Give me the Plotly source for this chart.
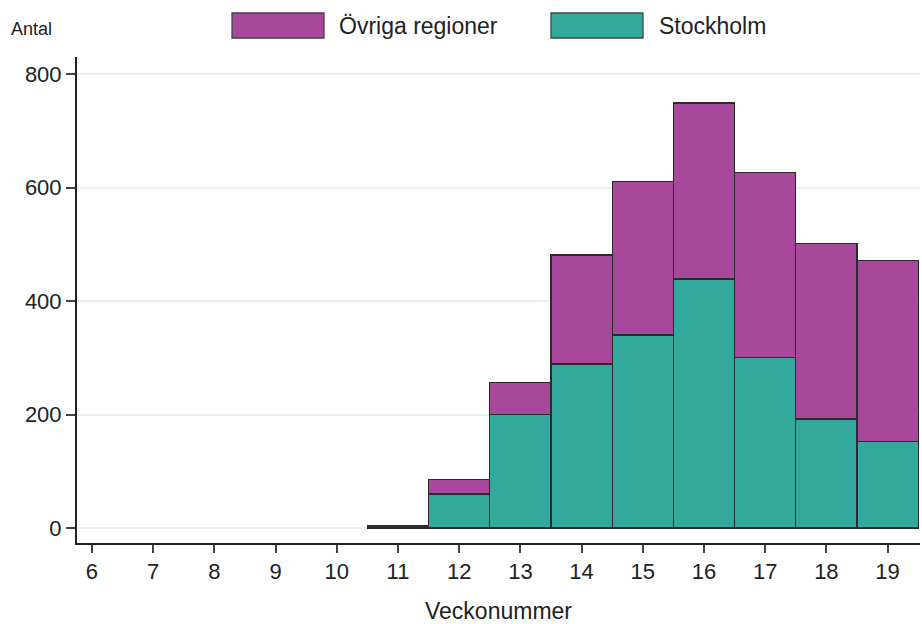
import plotly.graph_objects as go

weeks = [6, 7, 8, 9, 10, 11, 12, 13, 14, 15, 16, 17, 18, 19]
stockholm = [None, None, None, None, None, 3, 60, 200, 289, 340, 439, 300, 192, 152]
ovriga_total = [None, None, None, None, None, 4, 85, 256, 481, 611, 749, 627, 501, 472]
ovriga = [None if t is None else t - s for t, s in zip(ovriga_total, stockholm)]

purple = "#A8489A"
teal = "#33A89D"
edge = "#2B2B2B"
font = "Liberation Sans, Arial, sans-serif"

L, R, T, B = 77, 2, 57, 81
PW, PH = 922 - L - R, 624 - T - B

fig = go.Figure()
fig.add_trace(go.Bar(x=weeks, y=stockholm, name="Stockholm", width=1,
                     marker=dict(color=teal, line=dict(color=edge, width=1.3))))
fig.add_trace(go.Bar(x=weeks, y=ovriga, name="Övriga regioner", width=1,
                     marker=dict(color=purple, line=dict(color=edge, width=1.3))))

fig.update_layout(
    barmode="stack",
    width=922, height=624,
    margin=dict(l=L, r=R, t=T, b=B, autoexpand=False),
    paper_bgcolor="white", plot_bgcolor="white",
    showlegend=False,
    font=dict(family=font, size=22, color="#222222"),
    xaxis=dict(range=[5.755, 19.53], tickmode="array", tickvals=weeks,
               ticktext=[str(w) for w in weeks], automargin=False,
               showline=True, linecolor="#222222", linewidth=2,
               ticks="outside", ticklen=8, tickcolor="#444444", tickwidth=1.5,
               showgrid=False, zeroline=False,
               title=dict(text="Veckonummer", font=dict(size=23), standoff=24)),
    yaxis=dict(range=[-26.4, 830], tickvals=[0, 200, 400, 600, 800],
               automargin=False,
               showline=True, linecolor="#222222", linewidth=2,
               ticks="outside", ticklen=9, tickcolor="#444444", tickwidth=1.5,
               showgrid=True, gridcolor="#EAF1F3", gridwidth=1.5,
               zeroline=False),
)

# custom legend with large swatches
legend_items = [("Övriga regioner", purple, 232, 324, 337), ("Stockholm", teal, 551, 643, 657)]
for label, col, x0, x1, xt in legend_items:
    fig.add_shape(type="rect", xref="paper", yref="paper",
                  x0=(x0 - L) / PW, x1=(x1 - L) / PW,
                  y0=1 + (T - 38) / PH, y1=1 + (T - 13) / PH,
                  fillcolor=col, line=dict(color="#444444", width=1.3))
    fig.add_annotation(text=label, xref="paper", yref="paper",
                       x=(xt - L) / PW, y=1 + (T - 26) / PH,
                       xanchor="left", yanchor="middle", showarrow=False,
                       font=dict(size=23, color="#222222"))

fig.add_annotation(text="Antal", xref="paper", yref="paper",
                   x=(9 - L) / PW, y=1 + (T - 29) / PH,
                   xanchor="left", yanchor="middle", showarrow=False,
                   font=dict(size=18, color="#222222"))

fig.write_html("out.html", config={"displayModeBar": False},
               post_script="document.body.style.margin='0';document.body.style.overflow='hidden';")
